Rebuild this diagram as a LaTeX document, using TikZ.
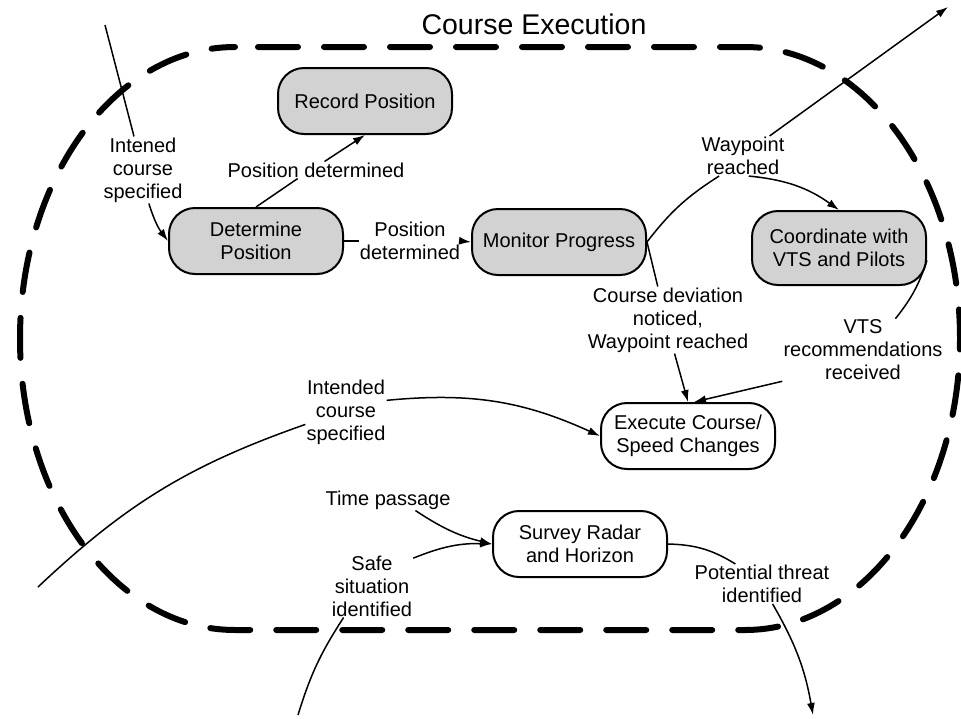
\documentclass[tikz,border=0pt]{standalone}
\usepackage{fontspec}
\setmainfont{Liberation Sans}
\usetikzlibrary{arrows.meta}
\definecolor{ink}{HTML}{000000}
\definecolor{shade}{HTML}{D2D2D2}
\tikzset{
  every node/.style={font=\fontsize{20}{23}\selectfont,text=ink},
  arr/.style={-{Latex[length=12pt,width=8pt]},line width=1.5pt,draw=ink},
  link/.style={line width=1.5pt,draw=ink},
  state/.style={draw=ink,line width=2pt,rounded corners=26pt,fill=white,align=center,minimum width=174pt,minimum height=66pt,inner sep=2pt},
  busy/.style={state,fill=shade},
  lbl/.style={align=center,inner sep=1pt},
  boundary/.style={draw=ink,line width=6pt,line cap=round,dash pattern=on 40pt off 26pt,dash phase=43pt}
}
\begin{document}
\begin{tikzpicture}[x=1pt,y=-1pt]
  \path[use as bounding box] (0,0) rectangle (961,718);
  \node[font=\fontsize{28.5}{32}\selectfont] (title) at (534,24) {Course Execution};
  \draw[boundary] (235,47) -- (745,47) .. controls (863.7,47) and (960,177.5) .. (960,338.5)
    .. controls (960,499.5) and (863.7,630) .. (745,630) -- (235,630)
    .. controls (116.3,630) and (20,499.5) .. (20,338.5)
    .. controls (20,177.5) and (116.3,47) .. (235,47) -- cycle;

  \node[busy] (recpos) at (365,101) {Record Position};
  \node[busy] (detpos) at (256,241) {Determine\\Position};
  \node[busy] (monprog) at (559,242) {Monitor Progress};
  \node[busy,minimum height=74pt] (coordvts) at (839,248) {Coordinate with\\VTS and Pilots};
  \node[state] (execcs) at (688,436) {Execute Course/\\Speed Changes};
  \node[state] (survey) at (580,544) {Survey Radar\\and Horizon};

  \node[lbl] (intened) at (143,170) {Intened\\course\\specified};
  \node[lbl] (posdet1) at (316,170) {Position determined};
  \node[lbl] (posdet2) at (410,241) {Position\\determined};
  \node[lbl] (wayrch) at (743,156) {Waypoint\\reached};
  \node[lbl] (coursedev) at (668,320) {Course deviation\\noticed,\\Waypoint reached};
  \node[lbl] (vtsrec) at (863,350) {VTS\\recommendations\\received};
  \node[lbl] (intended) at (346,412) {Intended\\course\\specified};
  \node[lbl] (timepass) at (388,500) {Time passage};
  \node[lbl] (safesit) at (372,586) {Safe\\situation\\identified};
  \node[lbl] (threat) at (762,584) {Potential threat\\identified};

  \coordinate (inA) at (105,25);
  \coordinate (inB) at (38,587);
  \coordinate (inC) at (298,715);
  \coordinate (outA) at (948,7);
  \coordinate (outB) at (813,715);

  \draw[link] (inA) -- (intened.105);
  \draw[arr] (intened.-80) to[bend right=10] (detpos.west);
  \draw[link] (detpos.north) -- (posdet1.205);
  \draw[arr] (posdet1.45) -- (recpos.south);
  \draw[link] (detpos.east) -- (posdet2.west);
  \draw[arr] (posdet2.east) -- (monprog.west);
  \draw[link] (monprog.east) to[bend left=10] (wayrch.220);
  \draw[arr] (wayrch.-74) to[bend left=15] (coordvts.north);
  \draw[arr] (wayrch.37) -- (outA);
  \draw[link] (monprog.east) -- (coursedev.107);
  \draw[arr] (coursedev.-79) -- (execcs.north);
  \draw[link] (coordvts.-8) to[bend left=10] (vtsrec.44);
  \draw[arr] (vtsrec.south west) -- (execcs.80);
  \draw[link] (inB) to[bend left=12] (intended.197);
  \draw[arr] (intended.16) to[bend left=15] (execcs.west);
  \draw[arr] (timepass.-21) to[bend right=10] (survey.west);
  \draw[link] (inC) to[bend left=8] (safesit.228);
  \draw[arr] (safesit.34) to[bend left=12] (survey.west);
  \draw[link] (survey.east) to[bend left=15] (threat.143);
  \draw[arr] (threat.-62) to[bend left=10] (outB);
\end{tikzpicture}
\end{document}
